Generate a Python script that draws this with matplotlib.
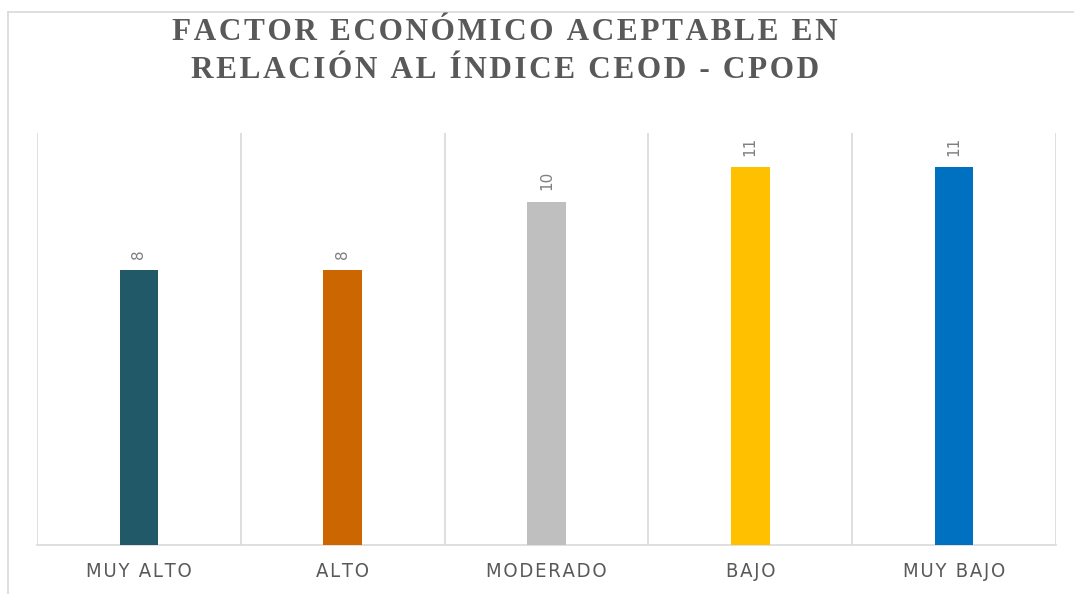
import matplotlib
matplotlib.use("Agg")
import matplotlib.pyplot as plt
from matplotlib.lines import Line2D

categories = ["MUY ALTO", "ALTO", "MODERADO", "BAJO", "MUY BAJO"]
values = [8, 8, 10, 11, 11]
colors = ["#215968", "#CC6600", "#BFBFBF", "#FFC000", "#0070C0"]
title_lines = ["FACTOR ECONÓMICO ACEPTABLE EN", "RELACIÓN AL ÍNDICE CEOD - CPOD"]

HS = "\u200a"

def spaced(s, sep=HS):
    return sep.join(s)

W, H = 1074, 594
fig = plt.figure(figsize=(W / 100, H / 100), dpi=100)

# chart border (partially visible)
fig.add_artist(Line2D([8 / W, 1.0], [1 - 12 / H, 1 - 12 / H], color="#D9D9D9", lw=1.2,
                      transform=fig.transFigure))
fig.add_artist(Line2D([8 / W, 8 / W], [1 - 12 / H, 0.0], color="#D9D9D9", lw=1.2,
                      transform=fig.transFigure))

ax = fig.add_axes([37 / W, 49 / H, 1019 / W, 412 / H])

x = list(range(len(categories)))
ax.bar(x, values, width=0.19, color=colors, zorder=3)

ax.set_xlim(-0.5, len(categories) - 0.5)
ax.set_ylim(0, 12)

for xi, v in zip(x, values):
    ax.annotate(str(v), (xi, v), xytext=(0, 8.5), textcoords="offset points",
                rotation=90, ha="center", va="bottom", fontsize=11,
                color="#7F7F7F", family="DejaVu Sans")

for b in [i - 0.5 for i in range(len(categories) + 1)]:
    ax.axvline(b, color="#D9D9D9", lw=1.2, zorder=1)

for s in ["top", "left", "right"]:
    ax.spines[s].set_visible(False)
ax.spines["bottom"].set_color("#D9D9D9")
ax.spines["bottom"].set_linewidth(1.2)
ax.set_yticks([])
ax.set_xticks(x)
ax.set_xticklabels([spaced(c, HS) for c in categories])
ax.tick_params(axis="x", length=0, pad=12)
for lab in ax.get_xticklabels():
    lab.set_family("DejaVu Sans")
    lab.set_stretch("condensed")
    lab.set_fontsize(14.5)
    lab.set_color("#595959")

for i, line in enumerate(title_lines):
    fig.text(505 / W, 1 - (33 + 38 * i) / H, spaced(line), ha="center", va="center",
             fontsize=22.5, fontweight="bold", family="Liberation Serif", color="#595959")

fig.savefig("out.png", dpi=100)
